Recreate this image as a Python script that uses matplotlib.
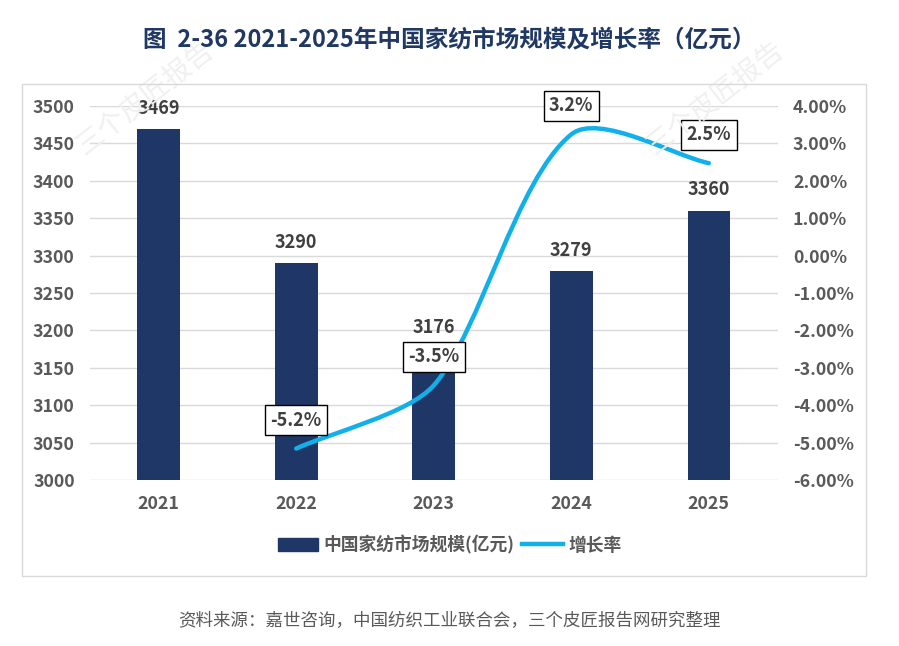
import matplotlib
matplotlib.use("Agg")
import matplotlib.pyplot as plt
from matplotlib.path import Path
from matplotlib.patches import PathPatch, Rectangle
from matplotlib.lines import Line2D
from matplotlib.patches import Patch
import numpy as np

plt.rcParams['font.family'] = ['Noto Sans CJK SC', 'DejaVu Sans']

years = ["2021", "2022", "2023", "2024", "2025"]
market_size = [3469, 3290, 3176, 3279, 3360]
growth_years_idx = [1, 2, 3, 4]
growth_rate = [-5.16, -3.47, 3.24, 2.47]
growth_labels = ["-5.2%", "-3.5%", "3.2%", "2.5%"]

title = "图  2-36 2021-2025年中国家纺市场规模及增长率（亿元）"
source = "资料来源：嘉世咨询，中国纺织工业联合会，三个皮匠报告网研究整理"
bar_name = "中国家纺市场规模(亿元)"
line_name = "增长率"

BAR_C = "#1F3767"
LINE_C = "#12B0EA"
TXT = "#404040"
TICK = "#595959"

fig = plt.figure(figsize=(8.99, 6.46), dpi=100)

# outer chart border
fig.patches.append(Rectangle((22/899, 1-576/646), (866-22)/899, (576-84)/646,
                             transform=fig.transFigure, fill=False,
                             edgecolor="#D9D9D9", linewidth=1.0))

ax = fig.add_axes([0.100, 0.257, 0.765, 0.579])
ax2 = ax.twinx()

x = np.arange(len(years))
ax.bar(x, market_size, width=0.31, color=BAR_C, zorder=2)
ax.set_xlim(-0.5, len(years) - 0.5)
ax.set_ylim(3000, 3500)
ax.set_yticks(np.arange(3000, 3501, 50))
ax.set_xticks(x)
ax.set_xticklabels(years)
ax.grid(axis='y', color="#D9D9D9", linewidth=1.0, zorder=0)
ax.set_axisbelow(True)
for s in ax.spines.values():
    s.set_visible(False)
for s in ax2.spines.values():
    s.set_visible(False)
ax.tick_params(axis='both', length=0, labelsize=12.8, labelcolor=TICK)
ax.tick_params(axis='y', pad=11)
ax.tick_params(axis='x', pad=11)
for lab in ax.get_xticklabels() + ax.get_yticklabels():
    lab.set_fontweight('bold')

for xi, v in zip(x, market_size):
    ax.annotate(f"{v}", (xi, v), xytext=(0, 15), textcoords="offset points",
                ha="center", va="center", fontsize=13, fontweight="bold",
                color=TXT, zorder=5)

# right axis
ax2.set_ylim(-6, 4)
ax2.set_yticks(np.arange(-6, 4.01, 1))
ax2.set_yticklabels([f"{t:.2f}%" for t in np.arange(-6, 4.01, 1)])
ax2.tick_params(axis='y', length=0, labelsize=12.8, labelcolor=TICK, pad=11)
for lab in ax2.get_yticklabels():
    lab.set_fontweight('bold')

# smooth line: Bezier with tangents from neighbours, handle lengths scaled by
# the adjacent segment length in display space (Excel-like smoothing)
pts = ax2.transData.transform(np.column_stack([growth_years_idx, growth_rate]))
n = len(pts)
tension = 0.25
tang = []
for i in range(n):
    a = pts[max(i - 1, 0)]
    b = pts[min(i + 1, n - 1)]
    d = b - a
    tang.append(d / np.linalg.norm(d))
verts = [tuple(pts[0])]
codes = [Path.MOVETO]
for i in range(n - 1):
    p1, p2 = pts[i], pts[i + 1]
    L = np.linalg.norm(p2 - p1)
    c1 = p1 + tang[i] * L * tension
    c2 = p2 - tang[i + 1] * L * tension
    verts += [tuple(c1), tuple(c2), tuple(p2)]
    codes += [Path.CURVE4] * 3
inv = ax2.transData.inverted()
verts_data = inv.transform(np.array(verts))
path = Path(verts_data, codes)
ax2.add_patch(PathPatch(path, facecolor="none", edgecolor=LINE_C, linewidth=3.2,
                        capstyle="round", joinstyle="round", zorder=3))

for xi, v, lab in zip(growth_years_idx, growth_rate, growth_labels):
    ax2.annotate(lab, (xi, v), xytext=(0, 20.5), textcoords="offset points",
                 ha="center", va="center", fontsize=13, fontweight="bold",
                 color=TXT, zorder=6,
                 bbox=dict(boxstyle="square,pad=0.3", facecolor="white",
                           edgecolor="black", linewidth=1.0))

# legend
handles = [Patch(facecolor=BAR_C, edgecolor=BAR_C),
           Line2D([0], [0], color=LINE_C, linewidth=3.2)]
leg = fig.legend(handles, [bar_name, line_name], loc="center",
                 bbox_to_anchor=(0.5, 1 - 545/646), ncol=2, frameon=False,
                 fontsize=12.8, handlelength=2.3, handletextpad=0.3,
                 columnspacing=0.4)
for t in leg.get_texts():
    t.set_fontweight("bold")
    t.set_color(TICK)

# title and source
fig.text(0.5, 1 - 40/646, title, ha="center", va="center", fontsize=17,
         fontweight="bold", color="#1F3864")
fig.text(0.5, 1 - 621/646, source, ha="center", va="center", fontsize=12.6,
         color="#595959")

# watermarks
for (wx, wy) in [(145/899, 1 - 98/646), (715/899, 1 - 98/646)]:
    fig.text(wx, wy, "三个皮匠报告", ha="center", va="center", fontsize=20,
             color="#F0F0F0", rotation=38, zorder=0)

fig.savefig("out.png", dpi=100)
